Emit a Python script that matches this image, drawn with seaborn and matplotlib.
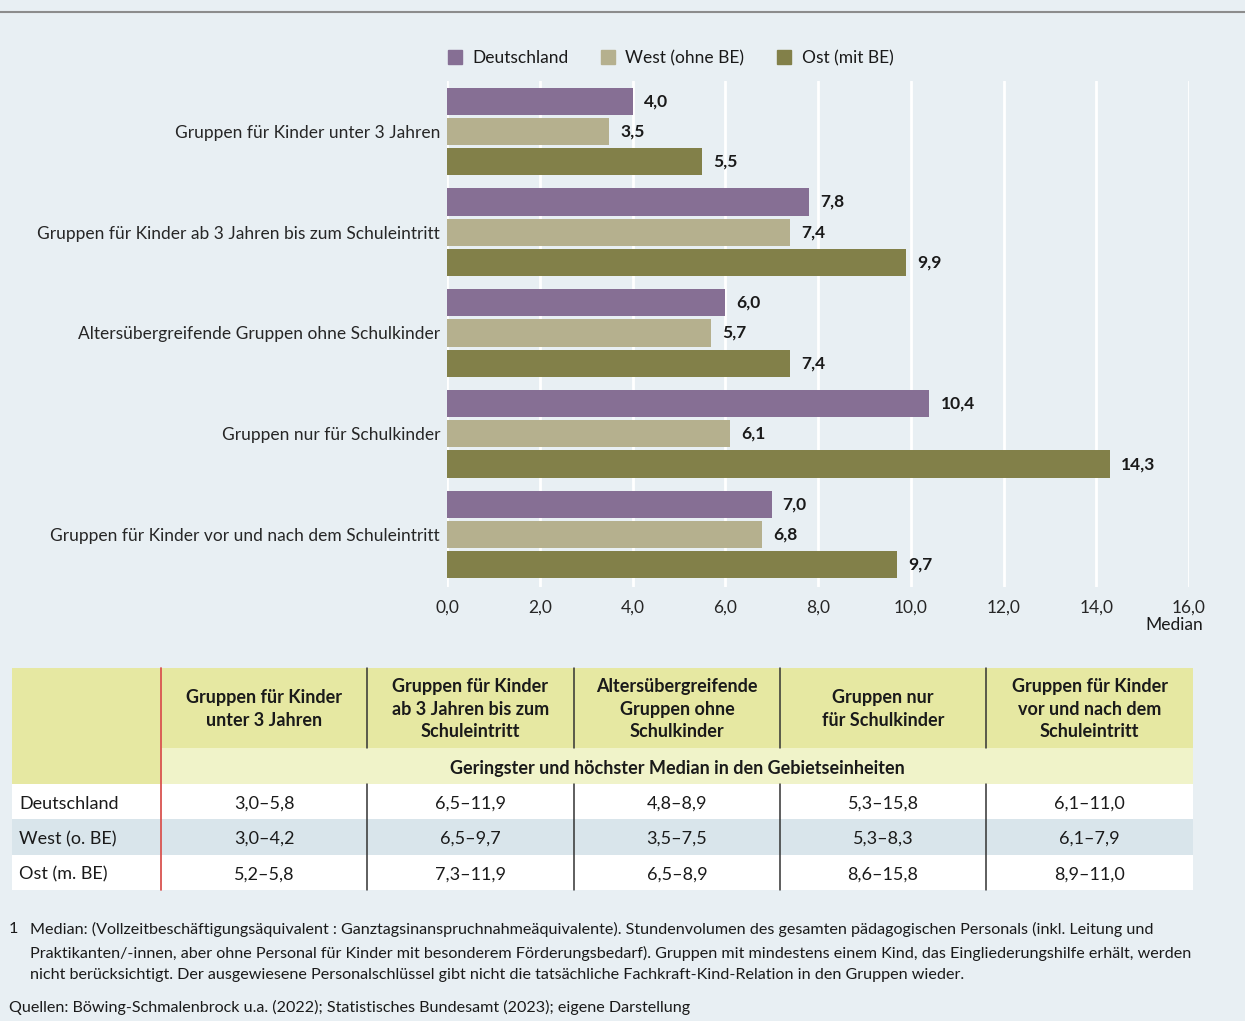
import numpy as np
import pandas as pd
import matplotlib.pyplot as plt
import matplotlib.patches as mpatches
import seaborn as sns

# --- data -----------------------------------------------------------------
categories = [
    'Gruppen für Kinder unter 3 Jahren',
    'Gruppen für Kinder ab 3 Jahren bis zum Schuleintritt',
    'Altersübergreifende Gruppen ohne Schulkinder',
    'Gruppen nur für Schulkinder',
    'Gruppen für Kinder vor und nach dem Schuleintritt',
]
series_names = ['Deutschland', 'West (ohne BE)', 'Ost (mit BE)']
deutschland = [4.0, 7.8, 6.0, 10.4, 7.0]
west = [3.5, 7.4, 5.7, 6.1, 6.8]
ost = [5.5, 9.9, 7.4, 14.3, 9.7]
x_ticks = [0, 2, 4, 6, 8, 10, 12, 14, 16]

table_headers = [
    'Gruppen für Kinder\nunter 3 Jahren',
    'Gruppen für Kinder\nab 3 Jahren bis zum\nSchuleintritt',
    'Altersübergreifende\nGruppen ohne\nSchulkinder',
    'Gruppen nur\nfür Schulkinder',
    'Gruppen für Kinder\nvor und nach dem\nSchuleintritt',
]
table_subheader = 'Geringster und höchster Median in den Gebietseinheiten'
table_rows = ['Deutschland', 'West (o. BE)', 'Ost (m. BE)']
table_ranges = [
    ['3,0–5,8', '6,5–11,9', '4,8–8,9', '5,3–15,8', '6,1–11,0'],
    ['3,0–4,2', '6,5–9,7', '3,5–7,5', '5,3–8,3', '6,1–7,9'],
    ['5,2–5,8', '7,3–11,9', '6,5–8,9', '8,6–15,8', '8,9–11,0'],
]

footnote = ('Median: (Vollzeitbeschäftigungsäquivalent : Ganztagsinanspruchnahmeäquivalente). '
            'Stundenvolumen des gesamten pädagogischen Personals (inkl. Leitung und\n'
            'Praktikanten/-innen, aber ohne Personal für Kinder mit besonderem Förderungsbedarf). '
            'Gruppen mit mindestens einem Kind, das Eingliederungshilfe erhält, werden\n'
            'nicht berücksichtigt. Der ausgewiesene Personalschlüssel gibt nicht die tatsächliche '
            'Fachkraft-Kind-Relation in den Gruppen wieder.')
source = 'Quellen: Böwing-Schmalenbrock u.a. (2022); Statistisches Bundesamt (2023); eigene Darstellung'

# --- style ------------------------------------------------------------------
BG = '#e8eff3'
colors = ['#866f94', '#b5b08e', '#828049']

sns.set_theme(style='white')
plt.rcParams['font.family'] = ['Lato', 'DejaVu Sans']
plt.rcParams['text.color'] = '#1a1a1a'

W, H = 1245, 1021
fig = plt.figure(figsize=(W / 100, H / 100), dpi=100, facecolor=BG)

# full-figure pixel axes for table / lines / footnotes
bg = fig.add_axes([0, 0, 1, 1])
bg.set_xlim(0, W)
bg.set_ylim(H, 0)
bg.axis('off')
bg.set_zorder(0)

bg.plot([0, W], [12, 12], color='#8c8c8c', lw=1.5)

# --- bar chart --------------------------------------------------------------
df = pd.DataFrame({
    'Kategorie': categories * 3,
    'Gebiet': sum([[s] * len(categories) for s in series_names], []),
    'Median': deutschland + west + ost,
})

x0, x1 = 447, 1189
y_top, y_bot = 81, 587
ax = fig.add_axes([x0 / W, 1 - y_bot / H, (x1 - x0) / W, (y_bot - y_top) / H])
ax.set_facecolor(BG)
ax.patch.set_alpha(0)
ax.set_zorder(2)

sns.barplot(data=df, y='Kategorie', x='Median', hue='Gebiet', orient='h',
            palette=colors, width=0.9, gap=0.1, saturation=1, ax=ax,
            edgecolor='none', legend=False)

ax.set_xlim(0, 16)
ax.set_ylim(4.52, -0.5)
ax.set_xticks(x_ticks)
ax.set_xticklabels([f'{t:.1f}'.replace('.', ',') for t in x_ticks], fontsize=12.5)
ax.grid(axis='x', color='white', lw=2)
ax.set_axisbelow(True)
for s in ax.spines.values():
    s.set_visible(False)
ax.tick_params(axis='x', length=0, pad=9)
ax.tick_params(axis='y', length=0, pad=5, labelsize=12.5)
ax.set_xlabel('')
ax.set_ylabel('')
bg.text(1203, 625, 'Median', ha='right', va='center', fontsize=12.5)

for cont in ax.containers:
    labels = [f'{v:.1f}'.replace('.', ',') for v in cont.datavalues]
    ax.bar_label(cont, labels=labels, padding=8, fontsize=12.5,
                 fontweight='bold')

handles = [mpatches.Patch(color=c, label=n) for c, n in zip(colors, series_names)]
fig.legend(handles=handles, loc='center left', bbox_to_anchor=(432 / W, 1 - 58 / H),
           ncol=3, frameon=False, fontsize=12.5, handlelength=0.8, handleheight=0.8,
           handletextpad=0.6, columnspacing=1.9)

# --- table ------------------------------------------------------------------
tx0, tx1 = 12, 1193
col_edges = [161, 367, 574, 780, 986, 1193]
head_top, head_bot = 668, 748
sub_bot = 784
row_h = 35.3
YELLOW = '#e6e8a2'
LIGHT_Y = '#f0f3c9'
row_cols = ['white', '#d9e5eb', 'white']

bg.add_patch(mpatches.Rectangle((tx0, head_top), tx1 - tx0, head_bot - head_top,
                                color=YELLOW, lw=0))
bg.add_patch(mpatches.Rectangle((tx0, head_bot), col_edges[0] - tx0, sub_bot - head_bot,
                                color=YELLOW, lw=0))
bg.add_patch(mpatches.Rectangle((col_edges[0], head_bot), tx1 - col_edges[0],
                                sub_bot - head_bot, color=LIGHT_Y, lw=0))
for i, rc in enumerate(row_cols):
    bg.add_patch(mpatches.Rectangle((tx0, sub_bot + i * row_h), tx1 - tx0, row_h,
                                    color=rc, lw=0))

table_bot = sub_bot + len(table_rows) * row_h
for xe in col_edges[1:-1]:
    bg.plot([xe, xe], [head_top, head_bot], color='#333333', lw=1.1)
    bg.plot([xe, xe], [sub_bot, table_bot], color='#333333', lw=1.1)
bg.plot([col_edges[0]] * 2, [head_top, table_bot], color='#d9534f', lw=1.3)

for j, h in enumerate(table_headers):
    cx = (col_edges[j] + col_edges[j + 1]) / 2
    bg.text(cx, (head_top + head_bot) / 2 + 1, h, ha='center', va='center',
            fontsize=13, fontweight='bold', linespacing=1.4)
bg.text((col_edges[0] + tx1) / 2, (head_bot + sub_bot) / 2 + 2, table_subheader,
        ha='center', va='center', fontsize=13, fontweight='bold')

for i, (rl, vals) in enumerate(zip(table_rows, table_ranges)):
    cy = sub_bot + (i + 0.5) * row_h + 2
    bg.text(19, cy, rl, ha='left', va='center', fontsize=13)
    for j, v in enumerate(vals):
        cx = (col_edges[j] + col_edges[j + 1]) / 2
        bg.text(cx, cy, v, ha='center', va='center', fontsize=13)

# --- notes ------------------------------------------------------------------
bg.text(9, 922, '1', ha='left', va='top', fontsize=11.6)
bg.text(30, 922, footnote, ha='left', va='top', fontsize=11.6, linespacing=1.7)
bg.text(9, 1000, source, ha='left', va='top', fontsize=11.6)

fig.savefig('out.png', dpi=100, facecolor=BG)
